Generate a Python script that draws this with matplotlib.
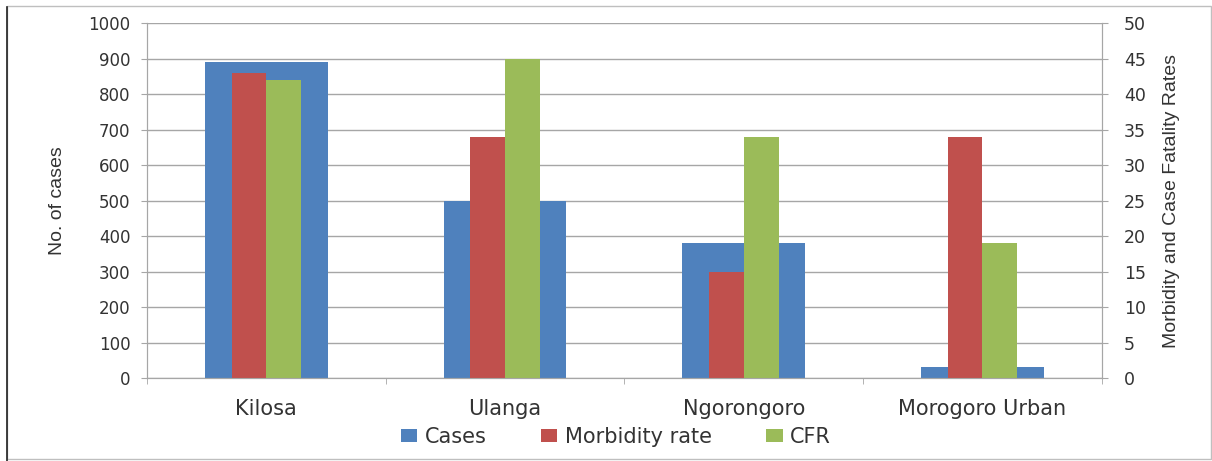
import matplotlib.pyplot as plt
from matplotlib.patches import Rectangle
import numpy as np

districts = ["Kilosa", "Ulanga", "Ngorongoro", "Morogoro Urban"]
cases = [890, 500, 380, 30]
morbidity = [43, 34, 15, 34]
cfr = [42, 45, 34, 19]

BLUE = "#4F81BD"
RED = "#C0504D"
GREEN = "#9BBB59"
GRID = "#A6A6A6"
TEXT = "#333333"

plt.rcParams["font.family"] = ["DejaVu Sans"]

fig = plt.figure(figsize=(12.12, 4.61), dpi=100)
fig.patches.append(Rectangle((7 / 1212, 0.004), 1 - 8 / 1212, 1 - 8 / 461,
                             transform=fig.transFigure, fill=False,
                             edgecolor="#BFBFBF", lw=1))
fig.add_artist(plt.Line2D([7 / 1212, 7 / 1212], [0, 1 - 7 / 461],
                          transform=fig.transFigure, color="#222222", lw=1.2))

ax = fig.add_axes([0.1213, 0.180, 0.7877, 0.770])
ax2 = ax.twinx()

# wide bars for case counts, narrow rate bars on the right-hand scale
x = np.arange(len(districts))
ax.bar(x, cases, width=0.515, color=BLUE, label="Cases", zorder=2)
bw = 0.146
ax2.bar(x - bw / 2, morbidity, width=bw, color=RED, label="Morbidity rate")
ax2.bar(x + bw / 2, cfr, width=bw, color=GREEN, label="CFR")

ax.set_xlim(-0.5, len(districts) - 0.5)
ax.set_ylim(0, 1000)
ax2.set_ylim(0, 50)
ax.set_yticks(np.arange(0, 1001, 100))
ax2.set_yticks(np.arange(0, 51, 5))
ax.set_axisbelow(True)
ax.yaxis.grid(True, color=GRID, lw=1)

ax.set_xticks(x)
ax.set_xticklabels(districts, fontsize=15, color=TEXT)
ax.set_xticks(np.arange(-0.5, len(districts)), minor=True)
ax.tick_params(axis="x", which="major", length=0, pad=15)
ax.tick_params(axis="x", which="minor", length=4, color=GRID)
ax.tick_params(axis="y", length=4, color=GRID, labelsize=12,
               labelcolor=TEXT, pad=8)
ax2.tick_params(axis="y", length=4, color=GRID, labelsize=12.5,
                labelcolor=TEXT, pad=12)

for a in (ax, ax2):
    a.spines["top"].set_visible(False)
    for s in ("left", "right", "bottom"):
        a.spines[s].set_color(GRID)

narrow = ["Liberation Sans", "DejaVu Sans"]
ax.set_ylabel("No. of cases", fontsize=14, color=TEXT, family=narrow,
              labelpad=16)
ax2.set_ylabel("Morbidity and Case Fatality Rates", fontsize=14,
               color=TEXT, family=narrow, labelpad=12)

handles = [h for a in (ax, ax2) for h in a.get_legend_handles_labels()[0]]
labels = [l for a in (ax, ax2) for l in a.get_legend_handles_labels()[1]]
fig.legend(handles, labels, loc="center", bbox_to_anchor=(0.508, 0.052),
           ncol=3, frameon=False, fontsize=15, handlelength=0.8,
           handleheight=0.55, handletextpad=0.35, columnspacing=2.6,
           labelcolor=TEXT)

fig.savefig("out.png", dpi=100)
